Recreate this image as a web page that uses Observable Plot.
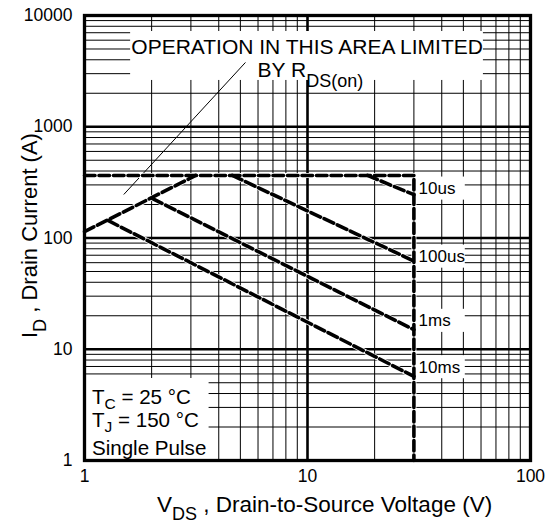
<!DOCTYPE html>
<html><head><meta charset="utf-8">
<script src="https://cdn.jsdelivr.net/npm/d3@7"></script>
<script src="https://cdn.jsdelivr.net/npm/@observablehq/plot@0.6"></script>
<style>
body{margin:0;background:#fff;}
#chart{width:560px;height:523px;}
svg text{white-space:pre;}
</style></head><body><div id="chart"></div>
<script>
// ---- data ----
const limitV = [1, 30, 30],     limitI = [365, 365, 1];   // package / BVdss boundary
const rdsV   = [1, 3.15],       rdsI   = [114, 365];       // RDS(on) limit
const us10V  = [18.6, 30],      us10I  = [365, 245];
const us100V = [4.6, 30],       us100I = [365, 62];
const ms1V   = [2.02, 30],      ms1I   = [226, 15];
const ms10V  = [1.28, 30],      ms10I  = [143, 5.7];
const pulseNames  = ["10us", "100us", "1ms", "10ms"];
const pulseLabelI = [278, 68, 18, 6.9];
const xTicks = [1, 10, 100];
const yTicks = [1, 10, 100, 1000, 10000];

const series = [
  {id: "limit", v: limitV, i: limitI},
  {id: "rds",   v: rdsV,   i: rdsI},
  {id: "10us",  v: us10V,  i: us10I},
  {id: "100us", v: us100V, i: us100I},
  {id: "1ms",   v: ms1V,   i: ms1I},
  {id: "10ms",  v: ms10V,  i: ms10I}
];
const rows = series.flatMap(s => s.v.map((v, k) => ({id: s.id, v, i: s.i[k]})));
const labels = pulseNames.map((n, k) => ({name: n, i: pulseLabelI[k]}));

const xGrid = d3.scaleLog().domain([1, 100]).ticks();
const yGrid = d3.scaleLog().domain([1, 10000]).ticks();
const xMajor = [10], yMajor = [10, 100, 1000];
const xMinor = xGrid.filter(d => !xTicks.includes(d));
const yMinor = yGrid.filter(d => !yTicks.includes(d));

const FONT = "'Liberation Sans', Arial, Helvetica, sans-serif";
const M = {left: 84, right: 30, top: 15, bottom: 63};
const W = 560, H = 523;

const plot = Plot.plot({
  width: W, height: H,
  marginLeft: M.left, marginRight: M.right, marginTop: M.top, marginBottom: M.bottom,
  style: {fontFamily: FONT, fontSize: "17.5px", color: "#000", background: "#fff"},
  x: {type: "log", domain: [1, 100], ticks: xTicks, tickFormat: d => String(d), tickSize: 0, tickPadding: 9, label: null},
  y: {type: "log", domain: [1, 10000], ticks: yTicks, tickFormat: d => String(d), tickSize: 0, tickPadding: 12, label: null},
  marks: [
    Plot.ruleX(xMinor, {stroke: "#000", strokeWidth: 1}),
    Plot.ruleY(yMinor, {stroke: "#000", strokeWidth: 1}),
    Plot.ruleX(xMajor, {stroke: "#000", strokeWidth: 2.6}),
    Plot.ruleY(yMajor, {stroke: "#000", strokeWidth: 2.6}),
    // white boxes behind annotations
    Plot.rect([{x1: 1.61, x2: 61.5, y1: 2607, y2: 7180}], {x1: "x1", x2: "x2", y1: "y1", y2: "y2", fill: "#fff"}),
    Plot.rect([{x1: 1, x2: 3.62, y1: 1, y2: 5.46}], {x1: "x1", x2: "x2", y1: "y1", y2: "y2", fill: "#fff"}),
    Plot.rect(labels, {x1: 30.6, x2: 51, y1: d => d.i / 1.27, y2: d => d.i * 1.27, fill: "#fff"}),
    // leader line
    Plot.link([{x1: 1.5, y1: 246, x2: 5.27, y2: 3785}], {x1: "x1", y1: "y1", x2: "x2", y2: "y2", stroke: "#000", strokeWidth: 1}),
    // SOA curves: white underlay + black dashes
    Plot.line(rows, {x: "v", y: "i", z: "id", stroke: "#fff", strokeWidth: 5, curve: "linear"}),
    Plot.line(rows, {x: "v", y: "i", z: "id", stroke: "#000", strokeWidth: 3.6, strokeDasharray: "10.5,4", curve: "linear"}),
    Plot.text(labels, {x: 31.5, y: "i", text: "name", textAnchor: "start", fontSize: 17, fill: "#000"}),
    Plot.frame({stroke: "#000", strokeWidth: 3.3})
  ]
});
document.getElementById("chart").appendChild(plot);

// ---- rich text with subscripts ----
const svg = d3.select(plot);
const xS = d3.scaleLog().domain([1, 100]).range([M.left, W - M.right]);
const yS = d3.scaleLog().domain([1, 10000]).range([H - M.bottom, M.top]);
const g = svg.append("g").attr("font-family", FONT).attr("fill", "#000").attr("text-anchor", "start");

function rich(x, y, parts, size, extra) {
  const t = g.append("text").attr("x", x).attr("y", y).attr("font-size", size)
    .attr("text-anchor", "start").style("white-space", "pre");
  if (extra) for (const [k, v] of Object.entries(extra)) t.attr(k, v);
  let shift = 0;
  for (const p of parts) {
    const s = t.append("tspan").text(p.t);
    const target = p.dy || 0;
    if (target !== shift) { s.attr("dy", target - shift); shift = target; }
    if (p.size) s.attr("font-size", p.size);
  }
  return t;
}

// annotation
rich(xS(1.63), yS(4500), [{t: "OPERATION IN THIS AREA LIMITED"}], 21);
rich(xS(6.0), yS(2750), [{t: "BY R"}, {t: "DS(on)", dy: 10, size: 18}], 21);

// conditions
rich(xS(1.085), yS(3.2), [{t: "T"}, {t: "C", dy: 5, size: 15.5}, {t: " = 25 °C"}], 20.6);
rich(xS(1.085), yS(1.99), [{t: "T"}, {t: "J", dy: 5, size: 15.5}, {t: " = 150 °C"}], 20.6);
rich(xS(1.085), yS(1.11), [{t: "Single Pulse"}], 20.6);

// axis titles
rich(157, 512, [{t: "V"}, {t: "DS", dy: 8, size: 18}, {t: " , Drain-to-Source Voltage (V)"}], 22.5);
rich(0, 0, [{t: "I"}, {t: "D", dy: 9, size: 18}, {t: " , Drain Current (A)"}], 22, {transform: "translate(37,338) rotate(-90)"});
</script>
</body></html>
